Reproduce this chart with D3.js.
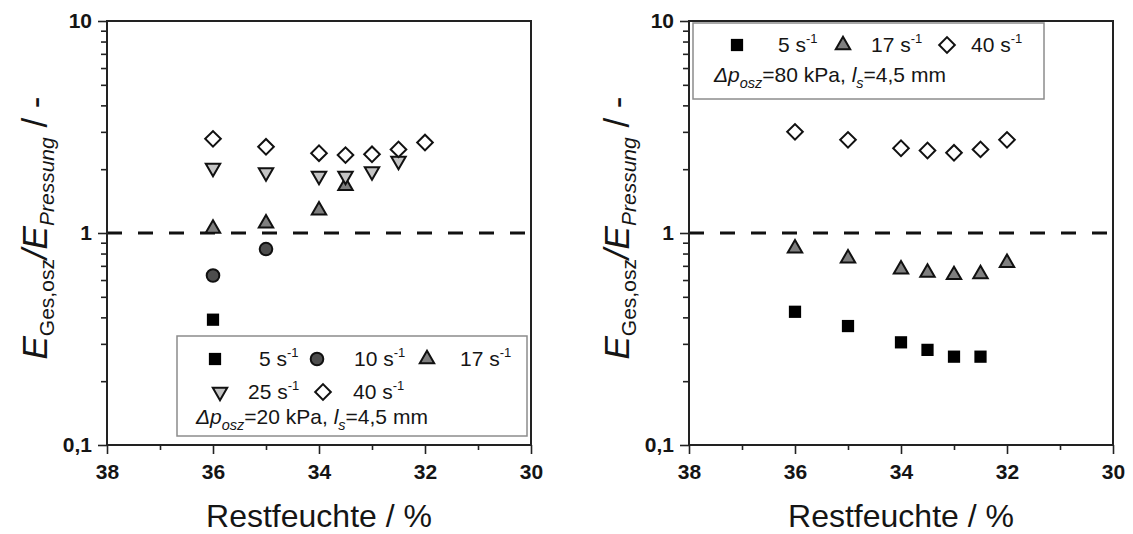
<!DOCTYPE html>
<html>
<head>
<meta charset="utf-8">
<script src="https://cdn.jsdelivr.net/npm/d3@7"></script>
<style>
  html, body { margin: 0; padding: 0; background: #fff; }
  svg { display: block; font-family: Arial, "Liberation Sans", sans-serif; }
</style>
</head>
<body>
<svg id="chart" width="1133" height="534"></svg>
<script>
// Residual moisture levels (%) at which the tests were run
const moisture = [36, 35, 34, 33.5, 33, 32.5, 32];

// Energy ratio E_Ges,osz / E_Pressung, Δp_osz = 20 kPa
const rate5_20  = [0.39, null, null, null, null, null, null];
const rate10_20 = [0.63, 0.84, null, null, null, null, null];
const rate17_20 = [1.05, 1.11, 1.28, 1.67, null, null, null];
const rate25_20 = [2.03, 1.93, 1.86, 1.86, 1.95, 2.19, null];
const rate40_20 = [2.78, 2.55, 2.38, 2.33, 2.35, 2.48, 2.67];

// Energy ratio, Δp_osz = 80 kPa
const rate5_80  = [0.425, 0.364, 0.305, 0.281, 0.261, 0.261, null];
const rate17_80 = [0.847, 0.76, 0.674, 0.65, 0.634, 0.64, 0.724];
const rate40_80 = [3.0, 2.75, 2.51, 2.45, 2.39, 2.48, 2.75];

// Axis ticks
const xMajor = [38, 36, 34, 32, 30];
const xMinor = [37, 35, 33, 31];
const yMajor = [0.1, 1, 10];
const yMinor = [0.2, 0.3, 0.4, 0.5, 0.6, 0.7, 0.8, 0.9, 2, 3, 4, 5, 6, 7, 8, 9];
const yTickText = ["0,1", "1", "10"];

// Marker styles per shear rate
const markerStyle = {
  "5":  { shape: "square",  fill: "#000000" },
  "10": { shape: "circle",  fill: "#4d4d4d" },
  "17": { shape: "triUp",   fill: "#7f7f7f" },
  "25": { shape: "triDown", fill: "#c4c4c4" },
  "40": { shape: "diamond", fill: "#ffffff" }
};

const svg = d3.select("#chart");
const FONT = 'Arial, "Liberation Sans", sans-serif';
const INK = "#151515";

function symbolPath(shape) {
  switch (shape) {
    case "square":  return d3.symbol(d3.symbolSquare, 150)();
    case "circle":  return d3.symbol(d3.symbolCircle, 125)();
    case "triUp":   return d3.symbol(d3.symbolTriangle, 90)();
    case "triDown": return d3.symbol(d3.symbolTriangle, 90)();
    case "diamond": return d3.symbol(d3.symbolSquare, 122)();
  }
}
function symbolRotation(shape) {
  if (shape === "triDown") return 180;
  if (shape === "diamond") return 45;
  return 0;
}
function drawMarker(g, x, y, key) {
  const st = markerStyle[key];
  g.append("path")
    .attr("d", symbolPath(st.shape))
    .attr("transform", `translate(${x},${y}) rotate(${symbolRotation(st.shape)})`)
    .attr("fill", st.fill)
    .attr("stroke", st.shape === "square" ? "none" : "#111")
    .attr("stroke-width", 2)
    .attr("stroke-linejoin", "miter");
}

const plotTop = 21, plotBottom = 445;

function drawPanel(cfg) {
  const x = d3.scaleLinear().domain([38, 30]).range([cfg.x0, cfg.x1]);
  const y = d3.scaleLog().domain([0.1, 10]).range([plotBottom, plotTop]);
  const g = svg.append("g");

  // minor ticks
  g.append("g")
    .attr("transform", `translate(0,${plotBottom})`)
    .call(d3.axisBottom(x).tickValues(xMinor).tickSize(5).tickFormat(""))
    .call(a => a.select(".domain").remove());
  g.append("g")
    .attr("transform", `translate(${cfg.x0},0)`)
    .call(d3.axisLeft(y).tickValues(yMinor).tickSize(6).tickFormat(""))
    .call(a => a.select(".domain").remove());

  // major ticks and labels
  const xa = g.append("g")
    .attr("transform", `translate(0,${plotBottom})`)
    .call(d3.axisBottom(x).tickValues(xMajor).tickSize(9).tickPadding(10).tickFormat(d3.format("d")));
  const ya = g.append("g")
    .attr("transform", `translate(${cfg.x0},0)`)
    .call(d3.axisLeft(y).tickValues(yMajor).tickSize(9).tickPadding(6)
      .tickFormat((d, i) => yTickText[i]));
  [xa, ya].forEach(a => {
    a.select(".domain").remove();
    a.selectAll("text").attr("font-family", FONT).attr("font-size", 21)
      .attr("font-weight", "bold").attr("fill", INK);
  });
  g.selectAll(".tick line").attr("stroke", "#222").attr("stroke-width", 1.6);

  // reference line at ratio 1
  g.append("line")
    .attr("x1", cfg.x0).attr("x2", cfg.x1)
    .attr("y1", y(1)).attr("y2", y(1))
    .attr("stroke", "#111").attr("stroke-width", 3.2)
    .attr("stroke-dasharray", "15,16");

  // plot frame
  g.append("rect")
    .attr("x", cfg.x0).attr("y", plotTop)
    .attr("width", cfg.x1 - cfg.x0).attr("height", plotBottom - plotTop)
    .attr("fill", "none").attr("stroke", "#222").attr("stroke-width", 2);

  // data markers
  cfg.series.forEach(s => {
    s.values.forEach((v, i) => {
      if (v == null) return;
      drawMarker(g, x(moisture[i]), y(v), s.key);
    });
  });

  // x axis title
  g.append("text")
    .attr("x", (cfg.x0 + cfg.x1) / 2).attr("y", 527)
    .attr("text-anchor", "middle")
    .attr("font-family", FONT).attr("font-size", 32).attr("fill", INK)
    .text("Restfeuchte / %");

  // y axis title (rotated)
  const yt = g.append("text")
    .attr("transform", `translate(${cfg.x0 - 60},228) rotate(-90)`)
    .attr("text-anchor", "middle")
    .attr("font-family", FONT).attr("fill", INK);
  yt.append("tspan").attr("font-size", 35).attr("font-style", "italic").text("E");
  yt.append("tspan").attr("font-size", 21).attr("dy", 7).text("Ges,osz");
  yt.append("tspan").attr("font-size", 35).attr("dy", -7).attr("font-style", "italic").text("/E");
  yt.append("tspan").attr("font-size", 21).attr("dy", 7).attr("font-style", "italic").text("Pressung");
  yt.append("tspan").attr("font-size", 35).attr("dy", -7).text(" / -");

  // legend
  const L = cfg.legend;
  g.append("rect")
    .attr("x", L.x).attr("y", L.y).attr("width", L.w).attr("height", L.h)
    .attr("fill", "#fff").attr("stroke", "#8c8c8c").attr("stroke-width", 1.5);
  L.items.forEach(it => {
    drawMarker(g, it.mx, it.my, it.key);
    const t = g.append("text")
      .attr("x", it.tx).attr("y", it.my + 7)
      .attr("font-family", FONT).attr("font-size", 21).attr("fill", INK);
    t.append("tspan").text(it.key + " s");
    t.append("tspan").attr("font-size", 13).attr("dy", -9).text("-1");
  });
  const c = g.append("text")
    .attr("x", L.cx).attr("y", L.cy)
    .attr("font-family", FONT).attr("font-size", 21).attr("fill", INK);
  c.append("tspan").attr("font-style", "italic").text("\u0394p");
  c.append("tspan").attr("font-style", "italic").attr("font-size", 14.5).attr("dy", 6).text("osz");
  c.append("tspan").attr("dy", -6).text("=" + L.dp + " kPa, ");
  c.append("tspan").attr("font-style", "italic").text("l");
  c.append("tspan").attr("font-style", "italic").attr("font-size", 14.5).attr("dy", 6).text("s");
  c.append("tspan").attr("dy", -6).text("=4,5 mm");
}

drawPanel({
  x0: 107, x1: 531,
  series: [
    { key: "5",  values: rate5_20 },
    { key: "10", values: rate10_20 },
    { key: "17", values: rate17_20 },
    { key: "25", values: rate25_20 },
    { key: "40", values: rate40_20 }
  ],
  legend: {
    x: 177, y: 336, w: 350, h: 100,
    items: [
      { key: "5",  mx: 215, my: 359, tx: 259 },
      { key: "10", mx: 317, my: 359, tx: 354 },
      { key: "17", mx: 427, my: 359, tx: 460 },
      { key: "25", mx: 220, my: 392, tx: 248 },
      { key: "40", mx: 323, my: 392, tx: 353 }
    ],
    cx: 196, cy: 424, dp: "20"
  }
});

drawPanel({
  x0: 689, x1: 1113,
  series: [
    { key: "5",  values: rate5_80 },
    { key: "17", values: rate17_80 },
    { key: "40", values: rate40_80 }
  ],
  legend: {
    x: 693, y: 23, w: 351, h: 76,
    items: [
      { key: "5",  mx: 737, my: 45, tx: 778 },
      { key: "17", mx: 843, my: 45, tx: 871 },
      { key: "40", mx: 947, my: 45, tx: 971 }
    ],
    cx: 714, cy: 82, dp: "80"
  }
});
</script>
</body>
</html>
